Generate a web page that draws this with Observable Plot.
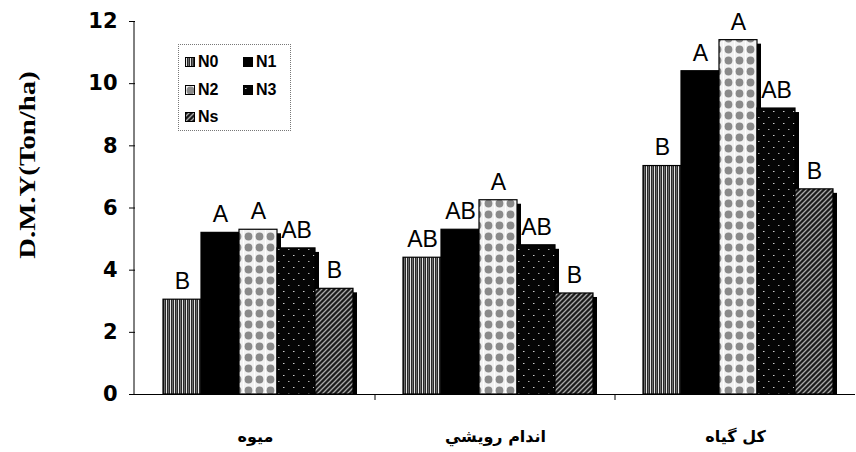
<!DOCTYPE html>
<html><head><meta charset="utf-8">
<script src="https://cdn.jsdelivr.net/npm/d3@7"></script>
<script src="https://cdn.jsdelivr.net/npm/@observablehq/plot@0.6"></script>
<style>
body{margin:0;background:#fff;}
#wrap{position:relative;width:856px;height:452px;overflow:hidden;}
#ylabel{position:absolute;left:28px;top:165px;transform:translate(-50%,-50%) rotate(-90deg) scaleX(1.25);font-family:"Liberation Serif","Times New Roman",serif;font-weight:bold;font-size:23px;white-space:nowrap;color:#000;}
#legend{position:absolute;left:178px;top:44px;width:113px;height:87px;border:1px dotted #777;box-sizing:border-box;font-family:"Liberation Sans",Arial,sans-serif;font-weight:bold;font-size:16px;color:#000;}
.li{position:absolute;display:flex;align-items:center;gap:3px;line-height:16px;height:16px;}
.li svg{display:block;}
</style></head><body><div id="wrap"><div id="ylabel">D.M.Y(Ton/ha)</div><div id="legend"></div></div>
<script>
const groups = ["میوه", "اندام رويشي", "کل گیاه"];
const series = ["N0", "N1", "N2", "N3", "Ns"];
const valuesFruit = [3.05, 5.2, 5.3, 4.7, 3.4];
const valuesVeg = [4.4, 5.3, 6.25, 4.8, 3.25];
const valuesTotal = [7.35, 10.4, 11.4, 9.2, 6.6];
const lettersFruit = ["B", "A", "A", "AB", "B"];
const lettersVeg = ["AB", "AB", "A", "AB", "B"];
const lettersTotal = ["B", "A", "A", "AB", "B"];
const yTicks = [0, 2, 4, 6, 8, 10, 12];
const fills = ["url(#pN0)", "#000", "url(#pN2)", "url(#pN3)", "url(#pNs)"];

const allValues = [valuesFruit, valuesVeg, valuesTotal];
const allLetters = [lettersFruit, lettersVeg, lettersTotal];
const data = [];
groups.forEach((g, i) => series.forEach((s, j) => data.push({group: g, series: s, value: allValues[i][j], letter: allLetters[i][j]})));

const plot = Plot.plot({
  width: 856, height: 452, marginTop: 21, marginBottom: 58, marginLeft: 134, marginRight: 0,
  style: {fontFamily: "'Liberation Sans', Arial, sans-serif", background: "#fff", color: "#000"},
  fx: {domain: groups, padding: 0, label: null},
  x: {domain: series, paddingInner: 0, paddingOuter: 0.58, align: 0.56, axis: null},
  y: {domain: [0, 12], label: null},
  color: {domain: series, range: fills},
  marks: [
    Plot.barY(data, {fx: "group", x: "series", y: "value", fill: "#000", dx: 4, insetTop: 4}),
    Plot.barY(data, {fx: "group", x: "series", y: "value", fill: "series", stroke: "#000", strokeWidth: 1.2}),
    Plot.ruleY([0], {stroke: "#000", strokeWidth: 1}),
    Plot.text(data, {fx: "group", x: "series", y: "value", text: "letter", dy: -18, fontSize: 23, fill: "#000"}),
    Plot.axisY({ticks: yTicks, tickSize: 6, tickPadding: 12, fontSize: 21, fontWeight: "bold", fontFamily: "'DejaVu Sans', sans-serif", label: null}),
    Plot.axisFx({anchor: "bottom", tickSize: 0, tickPadding: 36, fontSize: 16, fontWeight: "bold", label: null, fontFamily: "'DejaVu Sans', sans-serif"})
  ]
});

const svg = d3.select(plot);
const defs = svg.insert("defs", ":first-child");
// N0: vertical stripes
let p = defs.append("pattern").attr("id", "pN0").attr("patternUnits", "userSpaceOnUse").attr("width", 4).attr("height", 4);
p.append("rect").attr("width", 4).attr("height", 4).attr("fill", "#2a2a2a");
p.append("rect").attr("x", 1).attr("width", 1).attr("height", 4).attr("fill", "#e6e6e6");
p.append("rect").attr("x", 3).attr("width", 0.7).attr("height", 4).attr("fill", "#888");
// N2: light with gray blobs
p = defs.append("pattern").attr("id", "pN2").attr("patternUnits", "userSpaceOnUse").attr("width", 11).attr("height", 11);
p.append("rect").attr("width", 11).attr("height", 11).attr("fill", "#f2f2f2");
p.append("circle").attr("cx", 5.5).attr("cy", 5.5).attr("r", 3.9).attr("fill", "#8a8a8a");
p.append("rect").attr("x", 0).attr("width", 1).attr("height", 11).attr("fill", "#fff");
// N3: black with sparse white dots
p = defs.append("pattern").attr("id", "pN3").attr("patternUnits", "userSpaceOnUse").attr("width", 10).attr("height", 12);
p.append("rect").attr("width", 10).attr("height", 12).attr("fill", "#050505");
p.append("rect").attr("x", 2).attr("y", 3).attr("width", 1.5).attr("height", 1).attr("fill", "#ccc");
p.append("rect").attr("x", 7).attr("y", 9).attr("width", 1.5).attr("height", 1).attr("fill", "#aaa");
// Ns: diagonal hatch
p = defs.append("pattern").attr("id", "pNs").attr("patternUnits", "userSpaceOnUse").attr("width", 5).attr("height", 5);
p.append("rect").attr("width", 5).attr("height", 5).attr("fill", "#1a1a1a");
p.append("path").attr("d", "M0,5L5,0M-1,1L1,-1M4,6L6,4").attr("stroke", "#a8a8a8").attr("stroke-width", 1.3);

// y-axis line and group boundary ticks, placed with the plot's own scales
const ys = plot.scale("y"), fxs = plot.scale("fx");
svg.append("line").attr("x1", 134).attr("x2", 134).attr("y1", ys.apply(0)).attr("y2", ys.apply(12)).attr("stroke", "#000");
groups.slice(1).forEach(g => {
  const x = fxs.apply(g);
  svg.append("line").attr("x1", x).attr("x2", x).attr("y1", ys.apply(0)).attr("y2", ys.apply(0) + 6).attr("stroke", "#000");
});

document.getElementById("wrap").prepend(plot);

// legend
const legend = document.getElementById("legend");
const pos = [[6, 9], [64, 9], [6, 37], [64, 37], [6, 64]];
series.forEach((s, i) => {
  const d = document.createElement("div");
  d.className = "li";
  d.style.left = pos[i][0] + "px";
  d.style.top = pos[i][1] + "px";
  d.innerHTML = `<svg width="10" height="10"><rect x="0.5" y="0.5" width="9" height="9" fill="${fills[i]}" stroke="#000"/></svg><span>${s}</span>`;
  legend.appendChild(d);
});
</script></body></html>
